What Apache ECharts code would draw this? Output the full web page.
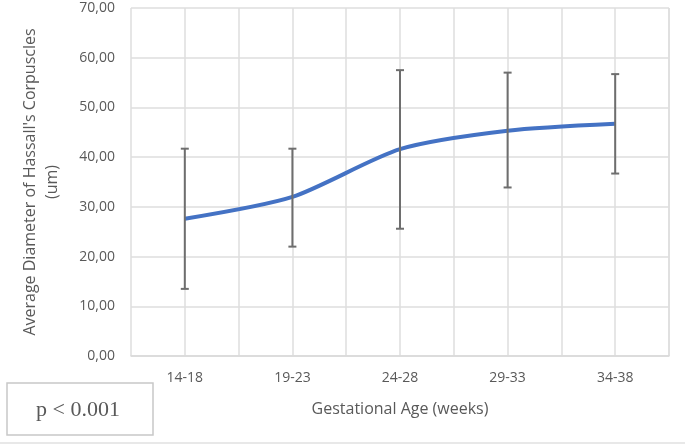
<!DOCTYPE html>
<html><head><meta charset="utf-8">
<script src="https://cdn.jsdelivr.net/npm/echarts@6/dist/echarts.min.js"></script>
<style>html,body{margin:0;padding:0;background:#fff}#c{width:685px;height:445px}</style>
</head><body><div id="c"></div>
<script>
const categories = ['14-18','19-23','24-28','29-33','34-38'];
const meanValues = [27.6, 32.0, 41.6, 45.3, 46.7];
const upperValues = [41.7, 41.7, 57.5, 57.0, 56.7];
const lowerValues = [13.5, 22.0, 25.6, 33.9, 36.7];

const chart = echarts.init(document.getElementById('c'));
const font = 'Open Sans';
const errData = categories.map((c,i)=>[i, lowerValues[i], upperValues[i]]);
chart.setOption({
  animation:false,
  backgroundColor:'#fff',
  grid:{left:131, right:16, top:8, bottom:89, containLabel:false},
  xAxis:[{
    type:'category', data:categories, boundaryGap:true,
    axisLine:{show:true, lineStyle:{color:'#d9d9d9', width:1.5}},
    axisTick:{show:false},
    splitLine:{show:false},
    axisLabel:{color:'#595959', fontFamily:font, fontSize:14, margin:15},
    name:'Gestational Age (weeks)', nameLocation:'middle', nameGap:45,
    nameTextStyle:{color:'#595959', fontFamily:font, fontSize:16}
  },{
    type:'value', min:0, max:10, interval:1, show:true, position:'top',
    axisLine:{show:false}, axisTick:{show:false}, axisLabel:{show:false},
    splitLine:{show:true, lineStyle:{color:'#dedede', width:1.5}}
  }],
  yAxis:{
    type:'value', min:0, max:70, interval:10,
    axisLine:{show:false}, axisTick:{show:false},
    axisLabel:{color:'#595959', fontFamily:font, fontSize:14, margin:16,
      formatter:v=>v.toFixed(2).replace('.',',')},
    splitLine:{show:true, lineStyle:{color:'#dedede', width:1.5}},
    name:"Average Diameter of Hassall's Corpuscles\n(um)", nameLocation:'middle', nameGap:68,
    nameTextStyle:{color:'#595959', fontFamily:font, fontSize:16, lineHeight:22, align:'center'}
  },
  series:[{
    type:'line', data:meanValues, xAxisIndex:0, smooth:0.25, symbol:'none',
    lineStyle:{color:'#4472C4', width:4}, z:3
  },{
    type:'custom', xAxisIndex:0, data:errData, z:4,
    renderItem:(params, api)=>{
      const x = api.value(0);
      const lo = api.coord([x, api.value(1)]);
      const hi = api.coord([x, api.value(2)]);
      const w = 4;
      const st = {stroke:'#6e6e6e', lineWidth:2};
      return {type:'group', children:[
        {type:'line', shape:{x1:lo[0], y1:lo[1], x2:hi[0], y2:hi[1]}, style:st},
        {type:'line', shape:{x1:lo[0]-w, y1:lo[1], x2:lo[0]+w, y2:lo[1]}, style:st},
        {type:'line', shape:{x1:hi[0]-w, y1:hi[1], x2:hi[0]+w, y2:hi[1]}, style:st}
      ]};
    }
  }],
  graphic:[
    {type:'rect', shape:{x:7, y:383, width:146, height:52}, style:{fill:'#fff', stroke:'#c8c8c8', lineWidth:1.5}},
    {type:'text', x:78, y:410, style:{text:'p < 0.001', fill:'#595959', font:'22px "Liberation Serif", serif', align:'center', verticalAlign:'middle'}},
    {type:'line', shape:{x1:0, y1:443, x2:685, y2:443}, style:{stroke:'#e0e0e0', lineWidth:1.5}},
    {type:'line', shape:{x1:669, y1:8, x2:669, y2:356}, style:{stroke:'#dedede', lineWidth:1.5}}
  ]
});
</script></body></html>
